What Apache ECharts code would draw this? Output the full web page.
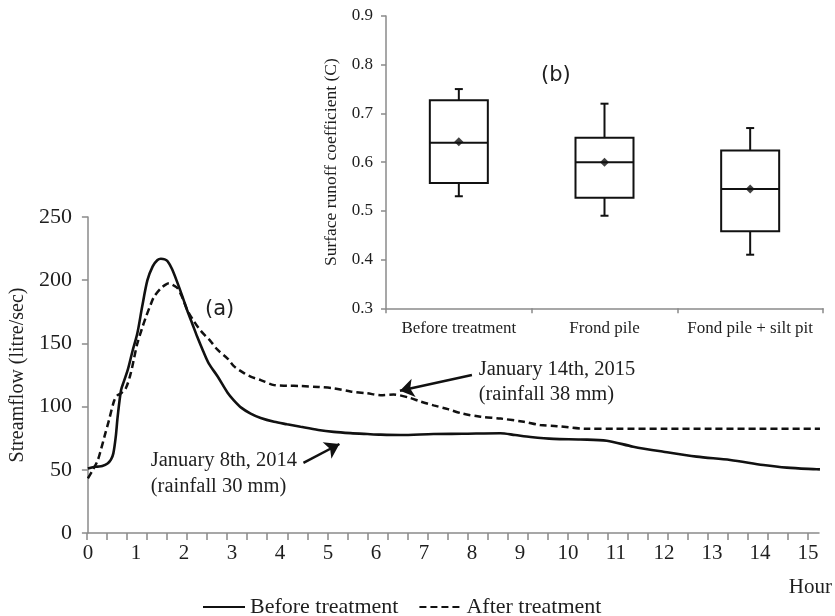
<!DOCTYPE html>
<html>
<head>
<meta charset="utf-8">
<script src="https://cdn.jsdelivr.net/npm/echarts@6/dist/echarts.min.js"></script>
<style>
html,body{margin:0;padding:0;background:#fff;}
#chart{width:835px;height:616px;}
</style>
</head>
<body>
<div id="chart"></div>
<script>
// ---- Main chart (a): streamflow hydrographs ----
const beforeHours = [0,0.1,0.2,0.3,0.41,0.48,0.53,0.58,0.62,0.69,0.75,0.83,0.93,1.03,1.13,1.24,1.35,1.45,1.52,1.6,1.66,1.75,1.87,1.97,2.07,2.18,2.28,2.4,2.52,2.7,2.91,3.04,3.2,3.39,3.6,3.88,4.15,4.43,4.8,5.12,5.47,5.82,6.1,6.51,7.2,7.8,8.59,8.9,9.22,9.7,10.26,10.81,11.36,11.99,12.68,13.38,14.07,14.56,15.18,15.25];
const beforeFlow  = [51,52,52.5,53,55,58,63,76,92,113,120,129,144,158,179,200,211,216,217,216.5,215,209,197.5,187,176,165,155,144,134,124,111,105,99,94.5,91,88,86,84,81.5,80,79,78.3,77.8,77.5,78.3,78.5,78.9,77.5,76,74.5,74,73,68.3,64.3,60.4,57.8,53.8,51.7,50.4,50.3];
const afterHours = [0,0.1,0.2,0.27,0.35,0.44,0.55,0.62,0.69,0.79,0.89,0.96,1.03,1.12,1.21,1.3,1.38,1.52,1.62,1.69,1.78,1.87,1.97,2.07,2.2,2.35,2.55,2.7,2.91,3.04,3.25,3.39,3.6,3.88,4.15,4.43,4.8,5.12,5.47,5.82,6.1,6.37,6.7,6.93,7.2,7.5,7.8,8.18,8.6,9.08,9.42,9.77,10.4,11,12,13,14,15.25];
const afterFlow  = [43.3,49.8,57,65.7,77,89.4,105,109,110.5,114.5,126,138,150,161,171,180,187,193.6,196.5,197.5,196,193.6,186,176.4,168,160,152,145,138,132,126.5,123.7,121,117,116.5,116.3,115.5,114.5,112,110.5,109,109.5,107,104,101,98,94.5,92,90.5,88,85.4,84.5,82.5,82.5,82.5,82.5,82.5,82.5];
const yTicksMain = [0,50,100,150,200,250];

// ---- Inset chart (b): surface runoff coefficient box plots ----
const boxCats   = ['Before treatment','Frond pile','Fond pile + silt pit'];
const boxMin    = [0.53, 0.49, 0.41];
const boxQ1     = [0.557, 0.527, 0.458];
const boxMedian = [0.64, 0.60, 0.545];
const boxQ3     = [0.727, 0.65, 0.624];
const boxMax    = [0.75, 0.72, 0.67];
const boxMean   = [0.642, 0.60, 0.545];

const SERIF = 'Liberation Serif';
const TXT = '#1e1e1e';
const AX = '#8a8a8a';

const chart = echarts.init(document.getElementById('chart'));
const zip = (a,b) => a.map((v,i)=>[v,b[i]]);

const option = {
  animation: false,
  backgroundColor: '#fff',
  textStyle: { fontFamily: SERIF, color: TXT },
  grid: [
    { left: 87, top: 217, right: 16, height: 316 },          // main
    { left: 386, top: 16, right: 12, height: 292.3 },         // inset
    { left: 87, top: 217, width: 720.9, height: 316 }          // tick helper (25-min ticks)
  ],
  xAxis: [
    { type: 'value', gridIndex: 0, min: 0, max: 15.23, interval: 1,
      name: 'Hour', nameLocation: 'end', nameGap: 13,
      nameTextStyle: { fontFamily: SERIF, fontSize: 21, color: TXT, align: 'right', verticalAlign: 'top', padding: [44,0,0,0] },
      axisLine: { show: true, onZero: false, lineStyle: { color: AX, width: 1.5 } },
      axisTick: { show: false },
      splitLine: { show: false },
      axisLabel: { fontFamily: SERIF, fontSize: 21, color: TXT, margin: 10,
        formatter: v => (Math.abs(v - Math.round(v)) < 1e-6 ? String(Math.round(v)) : '') } },
    { type: 'category', gridIndex: 1, data: boxCats, boundaryGap: true,
      axisLine: { show: true, lineStyle: { color: AX, width: 1.5 } },
      axisTick: { show: true, length: 5, lineStyle: { color: AX, width: 1.5 } },
      axisLabel: { fontFamily: SERIF, fontSize: 17, color: TXT, margin: 12, interval: 0 } },
    { type: 'value', gridIndex: 2, min: 0, max: 15, interval: 5/12,
      axisLine: { show: false },
      axisTick: { show: true, length: 7, lineStyle: { color: AX, width: 1.5 } },
      axisLabel: { show: false },
      splitLine: { show: false } }
  ],
  yAxis: [
    { type: 'value', gridIndex: 0, min: yTicksMain[0], max: yTicksMain[yTicksMain.length-1], interval: 50,
      name: 'Streamflow (litre/sec)', nameLocation: 'middle', nameGap: 55,
      nameTextStyle: { fontFamily: SERIF, fontSize: 20, color: TXT },
      axisLine: { show: true, lineStyle: { color: AX, width: 1.5 } },
      axisTick: { show: true, length: 6, lineStyle: { color: AX, width: 1.5 } },
      splitLine: { show: false },
      axisLabel: { fontFamily: SERIF, fontSize: 22, color: TXT, margin: 16 } },
    { type: 'value', gridIndex: 1, min: 0.3, max: 0.9, interval: 0.1,
      name: 'Surface runoff coefficient (C)', nameLocation: 'middle', nameGap: 42,
      nameTextStyle: { fontFamily: SERIF, fontSize: 17.5, color: TXT },
      axisLine: { show: true, lineStyle: { color: AX, width: 1.5 } },
      axisTick: { show: true, length: 5, lineStyle: { color: AX, width: 1.5 } },
      splitLine: { show: false },
      axisLabel: { fontFamily: SERIF, fontSize: 17, color: TXT, margin: 13, formatter: v => v.toFixed(1) } },
    { type: 'value', gridIndex: 2, min: 0, max: 1, show: false }
  ],
  legend: {
    data: ['Before treatment', 'After treatment'],
    left: 197, top: 591, itemWidth: 42, itemHeight: 14, itemGap: 20,
    itemStyle: { opacity: 0, borderWidth: 0 },
    textStyle: { fontFamily: SERIF, fontSize: 22, color: TXT }
  },
  graphic: [
    { type: 'text', left: 205, top: 299, style: { text: '(a)', font: '21px "DejaVu Sans"', fill: TXT } },
    { type: 'text', left: 541, top: 65, style: { text: '(b)', font: '21px "DejaVu Sans"', fill: TXT } }
  ],
  series: [
    { name: 'Before treatment', type: 'line', xAxisIndex: 0, yAxisIndex: 0,
      data: zip(beforeHours, beforeFlow), showSymbol: false, symbol: 'none', smooth: 0.3,
      lineStyle: { color: '#111', width: 2.6, type: 'solid' }, itemStyle: { color: '#111' },
      markLine: { silent: true, symbol: ['none','arrow'], symbolSize: 14,
        lineStyle: { color: '#111', width: 2.5, type: 'solid' }, itemStyle: { color: '#111' }, label: { show: false },
        data: [[ { coord: [4.49, 55.4] }, { coord: [5.24, 70.4] } ]] },
      markPoint: { silent: true, symbol: 'circle', symbolSize: 0.01,
        data: [{ coord: [1.31, 47.1], value: 0 }],
        label: { show: true, position: 'inside', align: 'left', verticalAlign: 'middle',
          formatter: 'January 8th, 2014\n(rainfall 30 mm)', fontFamily: SERIF, fontSize: 20.5, lineHeight: 26, color: TXT } } },
    { name: 'After treatment', type: 'line', xAxisIndex: 0, yAxisIndex: 0,
      data: zip(afterHours, afterFlow), showSymbol: false, symbol: 'none', smooth: 0.3,
      lineStyle: { color: '#111', width: 2.5, type: [7, 4] }, itemStyle: { color: '#111' },
      markLine: { silent: true, symbol: ['none','arrow'], symbolSize: 14,
        lineStyle: { color: '#111', width: 2.5, type: 'solid' }, itemStyle: { color: '#111' }, label: { show: false },
        data: [[ { coord: [8.0, 125] }, { coord: [6.5, 112.5] } ]] },
      markPoint: { silent: true, symbol: 'circle', symbolSize: 0.01,
        data: [{ coord: [8.14, 119.1], value: 0 }],
        label: { show: true, position: 'inside', align: 'left', verticalAlign: 'middle',
          formatter: 'January 14th, 2015\n(rainfall 38 mm)', fontFamily: SERIF, fontSize: 20.5, lineHeight: 25, color: TXT } } },
    { name: 'Runoff coefficient', type: 'custom', xAxisIndex: 1, yAxisIndex: 1,
      encode: { x: 0, y: [1,2,3,4,5] },
      data: boxCats.map((c,i)=>[i, boxMin[i], boxQ1[i], boxMedian[i], boxQ3[i], boxMax[i]]),
      renderItem: function (params, api) {
        const idx = api.value(0);
        const pMin = api.coord([idx, api.value(1)]);
        const pQ1 = api.coord([idx, api.value(2)]);
        const pMed = api.coord([idx, api.value(3)]);
        const pQ3 = api.coord([idx, api.value(4)]);
        const pMax = api.coord([idx, api.value(5)]);
        const x = pMed[0], hw = 29, cw = 4;
        const st = { stroke: '#111', lineWidth: 2, fill: null };
        return { type: 'group', children: [
          { type: 'line', shape: { x1: x, y1: pQ3[1], x2: x, y2: pMax[1] }, style: st },
          { type: 'line', shape: { x1: x, y1: pQ1[1], x2: x, y2: pMin[1] }, style: st },
          { type: 'line', shape: { x1: x-cw, y1: pMax[1], x2: x+cw, y2: pMax[1] }, style: st },
          { type: 'line', shape: { x1: x-cw, y1: pMin[1], x2: x+cw, y2: pMin[1] }, style: st },
          { type: 'rect', shape: { x: x-hw, y: pQ3[1], width: 2*hw, height: pQ1[1]-pQ3[1] }, style: { stroke: '#111', lineWidth: 2, fill: '#fff' } },
          { type: 'line', shape: { x1: x-hw, y1: pMed[1], x2: x+hw, y2: pMed[1] }, style: st }
        ]};
      } },
    { name: 'Mean', type: 'scatter', xAxisIndex: 1, yAxisIndex: 1, z: 5,
      data: boxCats.map((c,i)=>[i, boxMean[i]]), symbol: 'diamond', symbolSize: 9,
      itemStyle: { color: '#111' } }
  ]
};
chart.setOption(option);
</script>
</body>
</html>
